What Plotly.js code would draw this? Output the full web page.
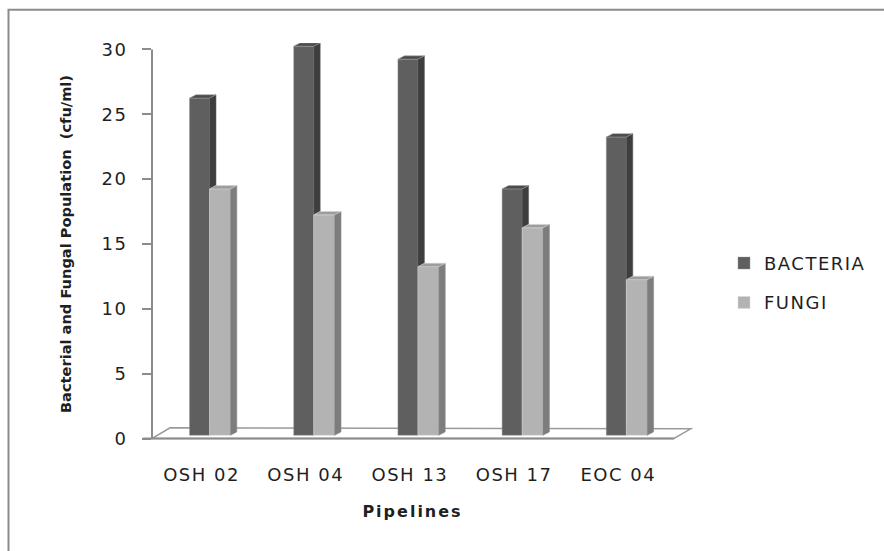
<!DOCTYPE html>
<html>
<head>
<meta charset="utf-8">
<script src="https://cdn.plot.ly/plotly-3.0.1.min.js"></script>
<style>
  html, body { margin: 0; padding: 0; background: #ffffff; }
  #chart { width: 884px; height: 551px; }
  .xtick text, .ytick text, .legendtext { letter-spacing: 1.5px; }
  .xtitle { letter-spacing: 2px; }
</style>
</head>
<body>
<div id="chart"></div>
<script>
// Microbial counts per pipeline
const pipelines = ['OSH 02', 'OSH 04', 'OSH 13', 'OSH 17', 'EOC 04'];
const bacteria  = [26, 30, 29, 19, 23];
const fungi     = [19, 17, 13, 16, 12];
const yTicks    = [0, 5, 10, 15, 20, 25, 30];

// ---- layout geometry (pixels) ----
const W = 884, H = 551;
const M = { l: 152, r: 211, t: 42.8, b: 105.5 };
const plotW = W - M.l - M.r;
const plotH = H - M.t - M.b;
const xRange = [-0.475, 4.525];
const yRange = [-0.5, 30.5];

// pseudo-3D bar styling (axis units)
const BASE = 0.25;      // bars stand a little behind the front floor edge
const DX = 0.062;       // depth offset to the right
const DY = 0.26;        // depth offset upwards
const bactOffset = -0.115, bactWidth = 0.192;
const fungOffset = 0.077,  fungWidth = 0.2;

const COL = {
  bactFront: '#5f5f5f', bactSide: '#3e3e3e', bactTop: '#4c4c4c',
  fungFront: '#b3b3b3', fungSide: '#7d7d7d', fungTop: '#9d9d9d',
  axis: '#8c8c8c', text: '#1f1f1f'
};

const idx = pipelines.map((_, i) => i);

// Build the right-hand side faces and the top caps of a bar series
function faces(vals, offset, width, hideBelow) {
  const side = { x: [], y: [] }, top = { x: [], y: [] };
  vals.forEach((v, i) => {
    const x0 = i + offset, x1 = x0 + width;
    const t = BASE + v;
    const lo = hideBelow ? Math.max(BASE, BASE + hideBelow[i]) : BASE;
    side.x.push(x1, x1 + DX, x1 + DX, x1, x1, null);
    side.y.push(lo, lo + DY, t + DY, t, lo, null);
    top.x.push(x0, x0 + DX, x1 + DX, x1, x0, null);
    top.y.push(t, t + DY, t + DY, t, t, null);
  });
  return { side, top };
}

const bf = faces(bacteria, bactOffset, bactWidth, fungi);
const ff = faces(fungi, fungOffset, fungWidth, null);

function poly(p, fill, edge) {
  return {
    type: 'scatter', mode: 'lines', x: p.x, y: p.y,
    fill: 'toself', fillcolor: fill,
    line: { color: edge, width: 0.7 },
    hoverinfo: 'skip', showlegend: false
  };
}

const traces = [
  {
    type: 'bar', name: 'BACTERIA', x: idx, y: bacteria, base: BASE,
    offset: bactOffset, width: bactWidth, legendgroup: 'b',
    marker: { color: COL.bactFront, line: { color: 'rgba(150,150,150,0.7)', width: 0.6 } }
  },
  {
    type: 'bar', name: 'FUNGI', x: idx, y: fungi, base: BASE,
    offset: fungOffset, width: fungWidth, legendgroup: 'f',
    marker: { color: COL.fungFront, line: { color: 'rgba(215,215,215,0.8)', width: 0.6 } }
  },
  poly(bf.side, COL.bactSide, 'rgba(90,90,90,0.8)'),
  poly(bf.top, COL.bactTop, 'rgba(160,160,160,0.8)'),
  poly(ff.side, COL.fungSide, 'rgba(140,140,140,0.8)'),
  poly(ff.top, COL.fungTop, 'rgba(210,210,210,0.8)')
];

// pixel -> paper helpers for the chart furniture
const px = v => (v - M.l) / plotW;
const py = v => (H - M.b - v) / plotH;

const floorPath =
  'M' + px(152) + ',' + py(439) +
  ' L' + px(674) + ',' + py(439) +
  ' L' + px(690.7) + ',' + py(429.3) +
  ' L' + px(170) + ',' + py(428.3) + ' Z';

const shapes = [
  // outer frame
  { type: 'rect', xref: 'paper', yref: 'paper', layer: 'below',
    x0: px(8.5), x1: px(900), y0: py(570), y1: py(9.5),
    line: { color: COL.axis, width: 2 }, fillcolor: 'rgba(0,0,0,0)' },
  // floor plane
  { type: 'path', xref: 'paper', yref: 'paper', layer: 'below',
    path: floorPath, line: { color: '#9a9a9a', width: 1.5 }, fillcolor: '#ffffff' },
  { type: 'line', xref: 'paper', yref: 'paper', layer: 'below',
    x0: px(143), x1: px(674), y0: py(439), y1: py(439),
    line: { color: COL.axis, width: 2 } },
  // vertical axis line
  { type: 'line', xref: 'paper', yref: 'paper', layer: 'below',
    x0: 0, x1: 0, y0: py(439), y1: py(49.3),
    line: { color: COL.axis, width: 2 } }
];

const layout = {
  width: W, height: H,
  margin: M,
  paper_bgcolor: '#ffffff', plot_bgcolor: 'rgba(0,0,0,0)',
  showlegend: true,
  barmode: 'overlay',
  font: { family: 'DejaVu Sans', color: COL.text, size: 18 },
  xaxis: {
    range: xRange, tickmode: 'array', tickvals: idx, ticktext: pipelines,
    showgrid: false, zeroline: false, showline: false, ticks: '',
    ticklabelstandoff: 17,
    tickfont: { family: 'DejaVu Sans', size: 18, color: COL.text },
    title: { text: 'Pipelines', standoff: 21,
             font: { family: 'DejaVu Sans', size: 16, weight: 'bold', color: COL.text } },
    fixedrange: true
  },
  yaxis: {
    range: yRange, tickmode: 'array', tickvals: yTicks,
    showgrid: false, zeroline: false, showline: false,
    ticks: 'outside', ticklen: 9, tickwidth: 2, tickcolor: COL.axis,
    ticklabelstandoff: 11,
    tickfont: { family: 'DejaVu Sans', size: 18, color: COL.text },
    title: { text: 'Bacterial and Fungal Population  (cfu/ml)', standoff: 26,
             font: { family: 'DejaVu Sans', size: 14.6, weight: 'bold', color: COL.text } },
    fixedrange: true
  },
  legend: {
    x: px(724), xanchor: 'left', y: py(245), yanchor: 'top',
    traceorder: 'grouped', tracegroupgap: 13,
    font: { family: 'DejaVu Sans', size: 18, color: COL.text },
    bgcolor: 'rgba(0,0,0,0)', borderwidth: 0
  },
  shapes: shapes
};

Plotly.newPlot('chart', traces, layout, { staticPlot: true, displayModeBar: false });
</script>
</body>
</html>
